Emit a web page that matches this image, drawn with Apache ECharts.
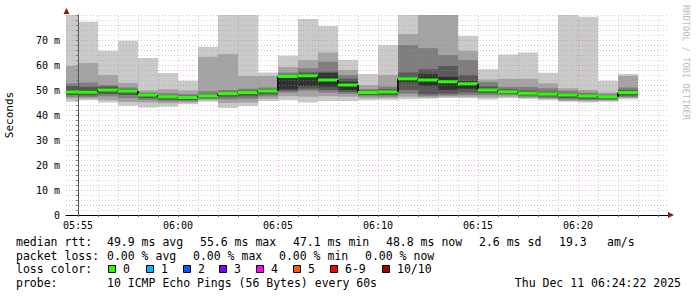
<!DOCTYPE html>
<html><head><meta charset="utf-8">
<script src="https://cdn.jsdelivr.net/npm/echarts@6.0.0/dist/echarts.min.js"></script>
<style>html,body{margin:0;padding:0;background:#fff}#c{width:697px;height:297px}</style>
</head><body><div id="c"></div>
<script>
// minutes after 05:55 at which each 1-minute step ends
const colEnd = [0,1,2,3,4,5,6,7,8,9,10,11,12,13,14,15,16,17,18,19,20,21,22,23,24,25,26,27,28];
const STEP = 1;
// sorted ping rtts (ms), lowest (ping1) to highest (ping10)
const ping1  = [45.3,46.0,45.0,43.7,43.0,43.3,44.3,45.3,42.8,43.6,45.6,46.0,45.0,45.6,45.6,46.0,46.1,46.3,46.5,46.8,46.7,46.2,46.7,46.4,46.0,45.3,45.0,45.3,46.3];
const ping2  = [46.5,46.5,46.0,45.2,45.0,44.7,45.0,46.0,44.8,45.0,46.5,47.5,47.3,47.5,47.3,46.7,46.7,47.3,47.0,47.3,47.3,47.0,47.3,46.8,46.4,45.7,45.5,45.7,46.8];
const ping3  = [47.3,47.2,47.5,46.7,46.0,45.5,45.5,46.4,46.3,46.5,47.5,49.0,49.7,49.0,48.5,47.5,47.4,48.5,47.5,47.8,48.0,48.0,48.0,47.3,46.8,46.2,46.0,46.0,47.2];
const ping4  = [48.0,47.8,48.4,48.0,46.8,46.2,46.0,46.8,47.3,47.5,48.3,49.6,50.5,50.0,49.2,48.0,48.0,50.0,48.3,48.5,49.0,48.8,48.5,47.8,47.4,46.8,46.5,46.5,47.7];
const ping5  = [48.7,48.6,49.5,49.3,47.7,47.0,46.6,47.3,48.2,48.6,49.2,50.3,51.6,51.3,50.0,48.5,48.6,53.3,51.6,50.0,50.5,49.5,49.0,48.3,48.0,47.5,47.2,47.0,48.5];
const ping6  = [49.8,49.8,50.6,50.0,48.3,47.6,47.3,47.9,48.9,49.3,49.9,55.6,56.4,56.7,53.3,49.5,49.6,55.0,56.4,55.3,53.5,50.5,49.8,49.2,48.8,48.3,47.9,47.5,49.5];
const ping7  = [51.6,51.3,51.4,50.4,48.6,48.0,47.8,48.2,49.3,49.8,50.3,55.8,57.0,57.3,54.5,49.8,50.3,57.0,58.3,59.6,56.0,51.5,50.3,49.8,49.3,48.8,48.3,47.8,50.0];
const ping8  = [52.6,53.0,52.0,51.0,49.0,48.7,48.3,49.5,50.0,50.5,51.0,57.0,58.7,61.3,56.0,50.3,51.3,68.0,66.7,64.0,62.0,53.2,51.2,51.2,50.7,49.7,49.0,48.3,51.0];
const ping9  = [59.6,60.8,56.0,52.9,49.8,50.3,49.8,63.3,64.4,55.6,55.6,59.2,62.0,65.0,58.0,52.0,56.0,72.4,82.0,82.0,65.7,54.2,54.5,54.5,52.7,50.7,50.0,49.0,55.6];
const ping10 = [82.0,77.3,65.7,69.7,62.8,56.8,53.7,67.3,82.0,82.0,57.0,63.7,78.4,75.6,62.0,56.4,68.0,82.0,84.0,84.0,71.6,58.3,64.2,65.0,56.9,82.0,79.3,53.7,56.4];
const median = [49.2,49.1,50.0,49.6,48.0,47.3,47.0,47.6,48.6,49.0,49.6,55.4,55.7,54.0,52.0,49.0,49.2,54.5,54.0,53.3,52.5,50.0,49.3,48.7,48.4,48.0,47.6,47.3,49.0];
// vertical grid positions (minutes after 05:55) and labelled ticks
const xGrid = [0,1,2,3,4,5,6,7,8,9,10,11,12,13,14,15,16,17,18,19,20,21,22,23,24,25,26,27,28,29];
const xLabels = [0,5,10,15,20,25];

const SMOKE = ['#cacaca','#a4a4a4','#7e7e7e','#585858','#323232'];
const MONO = '"DejaVu Sans Mono", monospace';
const MINOR = 'rgba(150,150,150,0.45)';
const MAJOR = 'rgba(240,80,80,0.38)';

function fmtTime(v){
  const t = 5*60+55+Math.round(v);
  const h = Math.floor(t/60), m = t%60;
  return String(h).padStart(2,'0')+':'+String(m).padStart(2,'0');
}

const smokeData = colEnd.map((t,i)=>[t,ping1[i],ping2[i],ping3[i],ping4[i],ping5[i],ping6[i],ping7[i],ping8[i],ping9[i],ping10[i]]);
const medData = colEnd.map((t,i)=>[t, median[i], i>0?median[i-1]:median[i]]);

const chart = echarts.init(document.getElementById('c'), null, {renderer:'svg'});

const legendRows = [
  {y:241.5, items:[[16,'median rtt:'],[107,'49.9 ms avg'],[200,'55.6 ms max'],[293,'47.1 ms min'],[386,'48.8 ms now'],[479,'2.6 ms sd'],[559,'19.3'],[607,'am/s']]},
  {y:255.5, items:[[16,'packet loss:'],[107,'0.00 % avg'],[193,'0.00 % max'],[279,'0.00 % min'],[365,'0.00 % now']]},
  {y:269, items:[[16,'loss color:']]},
  {y:283, items:[[16,'probe:'],[107,'10 ICMP Echo Pings (56 Bytes) every 60s']]}
];
const lossBoxes = [[108,'#26ff00','0'],[146,'#00b8ff','1'],[183,'#0059ff','2'],[219,'#7e00ff','3'],[256,'#ff00ff','4'],[293,'#ff5500','5'],[330,'#ff0000','6-9'],[382,'#a10000','10/10']];

const graphics = [];
legendRows.forEach(r=>r.items.forEach(([x,t])=>graphics.push({type:'text',x:x,y:r.y,style:{text:t,font:'11.5px '+MONO,fill:'#000',textAlign:'left',textVerticalAlign:'middle'}})));
lossBoxes.forEach(([x,c,t])=>{
  graphics.push({type:'rect',shape:{x:x+0.5,y:265.5,width:7,height:7},style:{fill:c,stroke:'#000',lineWidth:1}});
  graphics.push({type:'text',x:x+15,y:269,style:{text:t,font:'11.5px '+MONO,fill:'#000',textAlign:'left',textVerticalAlign:'middle'}});
});
graphics.push({type:'text',x:681,y:283,style:{text:'Thu Dec 11 06:24:22 2025',font:'11.5px '+MONO,fill:'#000',textAlign:'right',textVerticalAlign:'middle'}});
graphics.push({type:'text',x:686,y:5,rotation:-Math.PI/2,style:{text:'RRDTOOL / TOBI OETIKER',font:'8.7px '+MONO,fill:'#bcbcbc',textAlign:'left',textVerticalAlign:'middle'}});
graphics.push({type:'polygon',shape:{points:[[63.5,14],[69.5,14],[66.5,8]]},style:{fill:'#8b1a1a'},z:20});
graphics.push({type:'polygon',shape:{points:[[668,212],[668,218],[674,215]]},style:{fill:'#8b1a1a'},z:20});

chart.setOption({
  backgroundColor:'#ffffff',
  animation:false,
  grid:{left:66, top:15, width:602, height:200, containLabel:false, outerBoundsMode:'none'},
  xAxis:{
    type:'value', min:-0.6, max:29.5, z:6,
    axisLine:{show:true, lineStyle:{color:'#000', width:1}},
    axisTick:{show:true, length:2, customValues:xGrid, lineStyle:{color:'#666'}},
    axisLabel:{customValues:xLabels, formatter:fmtTime, fontFamily:MONO, fontSize:10, color:'#000', margin:5},
    splitLine:{show:false}
  },
  yAxis:{
    type:'value', min:0, max:80, interval:2, z:3,
    name:'Seconds', nameLocation:'middle', nameRotate:90, nameGap:51,
    nameTextStyle:{fontFamily:MONO, fontSize:11, color:'#000'},
    axisLine:{show:true, lineStyle:{color:'#555', width:1}},
    axisTick:{show:true, length:2, lineStyle:{color:'#888'}},
    axisLabel:{fontFamily:MONO, fontSize:10, color:'#000', margin:6,
      formatter:v=> v===0 ? '0' : (v%10===0 && v<80 ? v+' m' : '')},
    splitLine:{show:true, lineStyle:{color:[MAJOR,MINOR,MINOR,MINOR,MINOR], type:[1,2], width:1}}
  },
  graphic:graphics,
  series:[
    {
      type:'custom', name:'smoke', clip:true, z:2,
      encode:{x:0, y:[1,2,3,4,5,6,7,8,9,10]},
      data:smokeData,
      renderItem(params, api){
        const end = api.value(0), start = end-STEP;
        const ch = [];
        for(let b=0;b<5;b++){
          const lo = api.value(1+b), hi = api.value(10-b);
          const a = api.coord([start,hi]), c = api.coord([end,lo]);
          ch.push({type:'rect', shape:{x:a[0], y:a[1], width:c[0]-a[0], height:c[1]-a[1]}, style:{fill:SMOKE[b]}});
        }
        return {type:'group', children:ch};
      }
    },
    {
      type:'custom', name:'xgrid', clip:true, z:3, silent:true,
      encode:{x:0},
      data:xGrid.map(v=>[v]),
      renderItem(params, api){
        const v = api.value(0);
        const a = api.coord([v,0]), b = api.coord([v,80]);
        const x = Math.round(a[0])+0.5;
        return {type:'line', shape:{x1:x,y1:a[1],x2:x,y2:b[1]}, style:{stroke: v%5===0?MAJOR:MINOR, lineWidth:1, lineDash:[1,2]}};
      }
    },
    {
      type:'custom', name:'median', clip:true, z:4,
      encode:{x:0, y:1},
      data:medData,
      renderItem(params, api){
        const end = api.value(0), m = api.value(1), prev = api.value(2);
        const a = api.coord([end-STEP,m]), b = api.coord([end,m]), p = api.coord([end-STEP,prev]);
        return {type:'group', children:[
          {type:'line', shape:{x1:a[0],y1:p[1],x2:a[0],y2:a[1]}, style:{stroke:'#1a1a1a', lineWidth:2}},
          {type:'line', shape:{x1:a[0],y1:a[1],x2:b[0],y2:b[1]}, style:{stroke:'#26ff00', lineWidth:3}}
        ]};
      }
    }
  ]
});
</script>
</body></html>
